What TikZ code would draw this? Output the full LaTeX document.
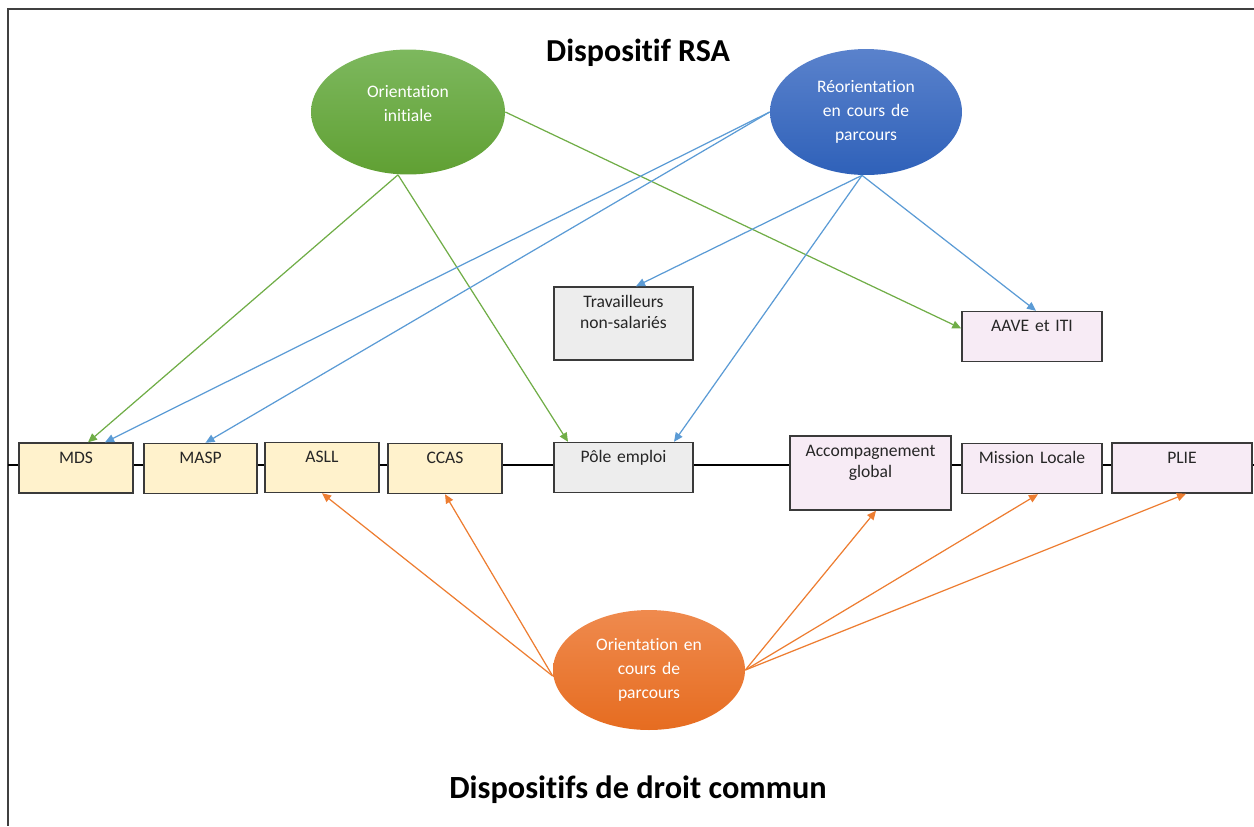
\documentclass[tikz,border=0pt]{standalone}
\usepackage{fontspec}
\setmainfont{Carlito}[Ligatures=NoCommon]
\usetikzlibrary{shapes.geometric,arrows.meta}
\definecolor{framegray}{HTML}{404040}
\definecolor{boxline}{HTML}{3A3A3A}
\definecolor{boxtext}{HTML}{262626}
\definecolor{boxyellow}{HTML}{FFF2CC}
\definecolor{boxgray}{HTML}{EDEDED}
\definecolor{boxpink}{HTML}{F7EBF5}
\definecolor{rsagreen}{HTML}{70AD47}
\definecolor{rsablue}{HTML}{5B9BD5}
\definecolor{rsaorange}{HTML}{ED7D31}
\definecolor{greentop}{HTML}{7DB85E}
\definecolor{greenbot}{HTML}{60A033}
\definecolor{bluetop}{HTML}{5A82CC}
\definecolor{bluebot}{HTML}{2F61B9}
\definecolor{orangetop}{HTML}{EF8A4E}
\definecolor{orangebot}{HTML}{E66C20}
\begin{document}
\begin{tikzpicture}[x=0.02cm, y=-0.02cm,
		box/.style={draw=boxline, line width=0.8pt, rectangle, inner xsep=0pt, inner ysep=0.1cm, text height=0.3cm, text depth=0.5cm, align=center, text=boxtext, font=\fontsize{10}{12.5}\selectfont},
		yellowbox/.style={box, fill=boxyellow},
		graybox/.style={box, fill=boxgray},
		pinkbox/.style={box, fill=boxpink},
		bubble/.style={ellipse, inner sep=0pt, text width=2.4cm, align=center, text=white, font=\fontsize{10}{13.5}\selectfont},
		arr/.style={line width=0.7pt, -{Triangle[length=0.18cm, width=0.16cm]}}]
		\useasboundingbox (0,0) rectangle (1254,826);

		\draw[framegray, line width=0.8pt] (1254,9) -- (8,9) -- (8,826);
		\draw[line width=0.8pt] (8,465) -- (1254,465);

		\node[font=\fontsize{18.2}{20}\selectfont\bfseries] (rsa) at (638,53) {Dispositif RSA};
		\node[font=\fontsize{18.4}{20}\selectfont\bfseries] (commun) at (638,790) {Dispositifs de droit commun};

		\node[bubble, minimum width=3.88cm, minimum height=2.5cm, text height=7pt, text depth=23pt, top color=greentop, bottom color=greenbot] (orinit) at (408,112) {Orientation\\initiale};
		\node[bubble, minimum width=3.84cm, minimum height=2.52cm, top color=bluetop, bottom color=bluebot] (reor) at (866,112) {Réorientation\\en cours de\\parcours};
		\node[bubble, minimum width=3.84cm, minimum height=2.4cm, top color=orangetop, bottom color=orangebot] (orpar) at (649,670) {Orientation en\\cours de\\parcours};

		\node[graybox, text width=2.78cm, text depth=0.96cm] (tns) at (623.5,323.5) {Travailleurs\\non-salariés};
		\node[pinkbox, text width=2.8cm] (aave) at (1032,336.5) {AAVE et ITI};

		\node[yellowbox, text width=2.28cm] (mds) at (76,468) {MDS};
		\node[yellowbox, text width=2.26cm] (masp) at (200.5,468.5) {MASP};
		\node[yellowbox, text width=2.28cm] (asll) at (322,467.5) {ASLL};
		\node[yellowbox, text width=2.28cm] (ccas) at (445,468.5) {CCAS};
		\node[graybox, text width=2.78cm] (pole) at (623.5,467.5) {Pôle emploi};
		\node[pinkbox, text width=3.22cm, text depth=0.98cm] (accomp) at (870.5,473) {Accompagnement\\global};
		\node[pinkbox, text width=2.8cm] (mission) at (1032,468.5) {Mission Locale};
		\node[pinkbox, text width=2.8cm] (plie) at (1182,468) {PLIE};

		\draw[arr, rsagreen] ([xshift=-0.2cm]orinit.south) -- ([xshift=0.24cm]mds.north);
		\draw[arr, rsagreen] ([xshift=-0.2cm]orinit.south) -- ([xshift=-1.11cm]pole.north);
		\draw[arr, rsagreen] (orinit.east) -- ([yshift=0.16cm]aave.west);

		\draw[arr, rsablue] (reor.west) -- ([xshift=0.58cm]mds.north);
		\draw[arr, rsablue] (reor.west) -- ([xshift=0.1cm]masp.north);
		\draw[arr, rsablue] ([xshift=-0.08cm]reor.south) -- ([xshift=0.25cm]tns.north);
		\draw[arr, rsablue] ([xshift=-0.08cm]reor.south) -- ([xshift=1.01cm]pole.north);
		\draw[arr, rsablue] ([xshift=-0.08cm]reor.south) -- ([xshift=0.08cm]aave.north);

		\draw[arr, rsaorange] ([yshift=-0.12cm]orpar.west) -- (asll.south);
		\draw[arr, rsaorange] ([yshift=-0.12cm]orpar.west) -- (ccas.south);
		\draw[arr, rsaorange] (orpar.east) -- ([xshift=0.11cm]accomp.south);
		\draw[arr, rsaorange] (orpar.east) -- ([xshift=0.12cm]mission.south);
		\draw[arr, rsaorange] (orpar.east) -- ([xshift=0.08cm]plie.south);
	\end{tikzpicture}
\end{document}
